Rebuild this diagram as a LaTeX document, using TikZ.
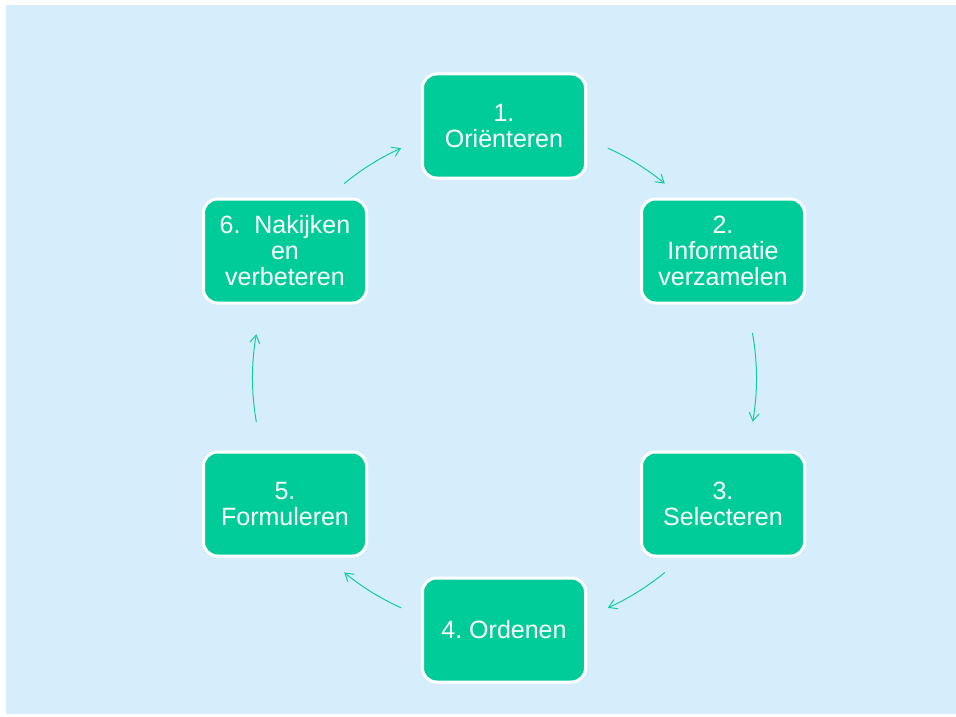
\documentclass[tikz,border=0pt]{standalone}
\usepackage{fontspec}
\setmainfont{Liberation Sans}
\usetikzlibrary{arrows.meta}
\definecolor{bgblue}{RGB}{214,238,252}
\definecolor{boxgreen}{RGB}{0,204,153}
\definecolor{arrowgreen}{RGB}{20,204,155}
\frenchspacing
\begin{document}
\begin{tikzpicture}[x=1pt,y=-1pt,
  stepbox/.style={draw=white, line width=3pt, fill=boxgreen, rounded corners=14pt,
    minimum width=163pt, minimum height=104pt, text=white, align=center,
    font=\fontsize{25}{26}\selectfont, inner sep=0pt},
  flow/.style={draw=arrowgreen, line width=1pt, -{Straight Barb[length=8pt,width=10pt]}}]
\useasboundingbox (0,0) rectangle (956,717);
\fill[bgblue] (6,5) rectangle (956,714);
\node[stepbox] (s1) at (504,126) {1.\\Oriënteren};
\node[stepbox] (s2) at (723,251) {2.\\Informatie\\verzamelen};
\node[stepbox] (s3) at (723,504) {3.\\Selecteren};
\node[stepbox] (s4) at (504,630) {4. Ordenen};
\node[stepbox] (s5) at (285,504) {5.\\Formuleren};
\node[stepbox] (s6) at (285,251) {6.\ \ Nakijken\\en\\verbeteren};
\coordinate (c) at (504.5,378);
\draw[flow] ([shift={(c)}]-65.8:252) arc[start angle=-65.8, end angle=-50.5, radius=252];
\draw[flow] ([shift={(c)}]-10.3:252) arc[start angle=-10.3, end angle=10, radius=252];
\draw[flow] ([shift={(c)}]50.5:252) arc[start angle=50.5, end angle=65.8, radius=252];
\draw[flow] ([shift={(c)}]114.2:252) arc[start angle=114.2, end angle=129.5, radius=252];
\draw[flow] ([shift={(c)}]170:252) arc[start angle=170, end angle=190, radius=252];
\draw[flow] ([shift={(c)}]-129.5:252) arc[start angle=-129.5, end angle=-114.2, radius=252];
\end{tikzpicture}
\end{document}
